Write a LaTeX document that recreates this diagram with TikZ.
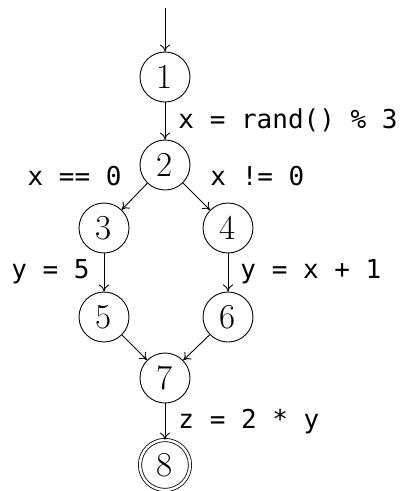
\documentclass[tikz,border=0pt]{standalone}
\usepackage{fontspec}
\newfontfamily\codefont{DejaVu Sans Mono}
\usetikzlibrary{arrows.meta}
\begin{document}
\begin{tikzpicture}[x=1pt,y=-1pt,
  state/.style={circle, draw, line width=0.9pt, minimum size=50pt, inner sep=0pt, font=\fontsize{35}{40}\selectfont},
  final/.style={state, double, double distance=2.4pt, line width=0.8pt},
  lbl/.style={inner sep=0pt, font=\codefont\fontsize{26}{30}\selectfont},
  flow/.style={-{To[length=7pt,width=10pt]}, line width=0.9pt}]
\useasboundingbox (0,0) rectangle (400,491);
\node[state] (n1) at (165,77) {1};
\node[state] (n2) at (165,165) {2};
\node[state] (n3) at (104,228) {3};
\node[state] (n4) at (228,228) {4};
\node[state] (n5) at (104,317) {5};
\node[state] (n6) at (228,317) {6};
\node[state] (n7) at (165,378) {7};
\node[final] (n8) at (165,465) {8};
\coordinate (start) at (165,8);
\draw[flow] (start) -- (n1);
\draw[flow] (n1) -- node[lbl, anchor=base west, xshift=13pt, yshift=-7pt] {x = rand() \% 3} (n2);
\draw[flow] (n2) -- node[lbl, anchor=base east, xshift=-12.5pt, yshift=11.5pt] {x == 0} (n3);
\draw[flow] (n2) -- node[lbl, anchor=base west, xshift=13.5pt, yshift=11.5pt] {x != 0} (n4);
\draw[flow] (n3) -- node[lbl, anchor=base east, xshift=-14pt, yshift=-5.5pt] {y = 5} (n5);
\draw[flow] (n4) -- node[lbl, anchor=base west, xshift=12pt, yshift=-5.5pt] {y = x + 1} (n6);
\draw[flow] (n5) -- (n7);
\draw[flow] (n6) -- (n7);
\draw[flow] (n7) -- node[lbl, anchor=base west, xshift=13pt, yshift=-7pt] {z = 2 * y} (n8);
\end{tikzpicture}
\end{document}
